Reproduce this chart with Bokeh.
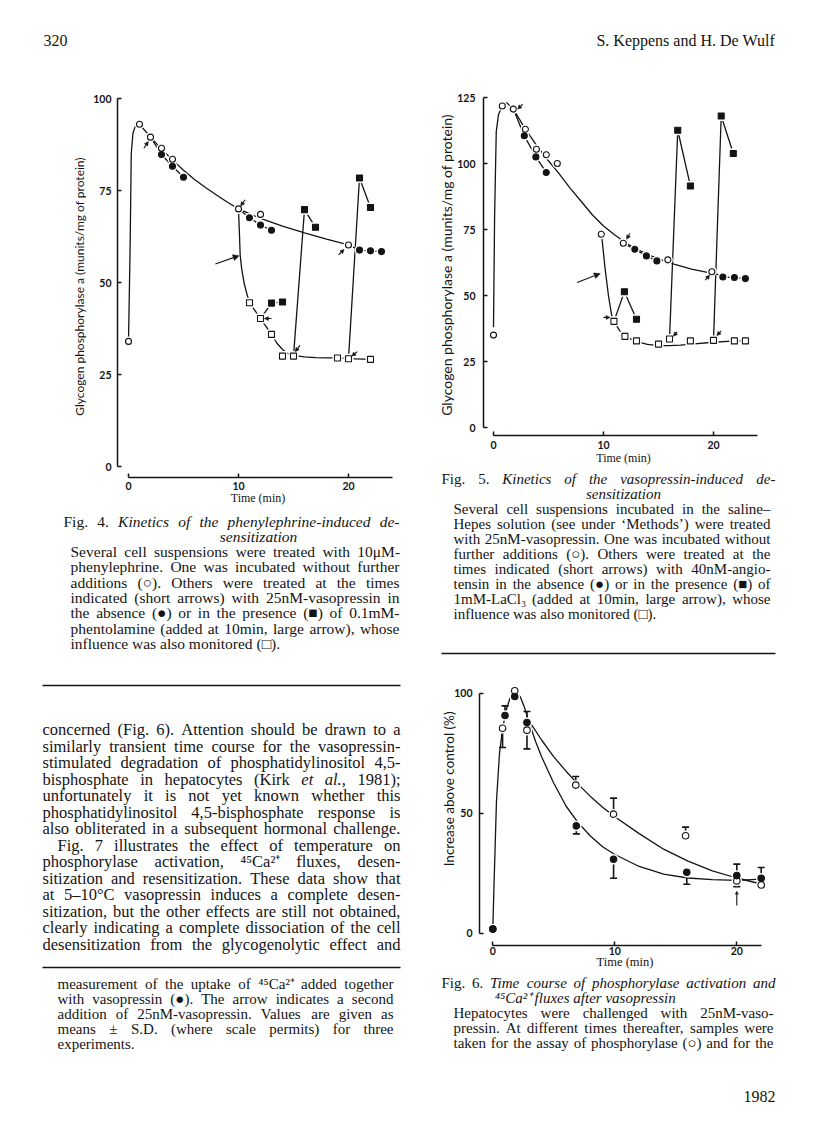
from bokeh.plotting import figure
from bokeh.models import Range1d, LinearAxis, FixedTicker, Arrow, NormalHead, ColumnDataSource, Title
from bokeh.layouts import column, row
from bokeh.embed import file_html
from bokeh.resources import INLINE
from bokeh.core.properties import value

INK = "#141414"
SERIF = "Liberation Serif"
SANS = "Lato"
NB = "\u00a0"

# ================= DATA =================
# ---- Fig. 4 (phenylephrine) ----
f4_ctrl_x = [0, 1, 2, 3, 4, 10, 12, 20]
f4_ctrl_y = [34, 93, 89.5, 86.5, 83.5, 70, 68.5, 60.2]
f4_ctrl_curve_x = [0, 0.15, 0.25, 0.4, 0.6, 1, 2, 3, 4, 5, 6, 7, 8, 9, 10, 12, 14, 16, 18, 20]
f4_ctrl_curve_y = [34, 60, 85, 90.5, 92.3, 93, 89.5, 86.3, 83.3, 80.5, 78, 75.8, 73.8, 71.8, 70, 67.4, 65.3, 63.5, 61.8, 60.2]
f4_vp_x = [[2, 3, 4, 5], [10, 11, 12, 13], [20, 21, 22, 23]]
f4_vp_y = [[89.5, 84.8, 81.6, 78.6], [70, 67.6, 65.6, 64.2], [60.2, 58.8, 58.6, 58.4]]
f4_phen_x = [11, 12, 13, 14, 15, 19, 20, 22]
f4_phen_y = [44.5, 40.2, 35.9, 30, 30, 29.5, 29.3, 29.1]
f4_phen_curve_x = [10, 10.05, 10.1, 10.15, 10.3, 10.5, 10.75, 11, 12, 13, 13.5, 14, 14.5, 15, 16, 17, 18, 19, 20, 22]
f4_phen_curve_y = [70, 66, 62, 57.5, 53.5, 50, 47, 44.5, 40.2, 35.9, 33.5, 31.8, 30.7, 30.2, 29.8, 29.6, 29.5, 29.5, 29.3, 29.1]
f4_vpphen_x = [[12, 13, 14], [15, 16, 17], [20, 21, 22]]
f4_vpphen_y = [[40.2, 44.4, 44.7], [30, 69.8, 65], [29.3, 78.4, 70.4]]
f4_short_x0 = [1.4, 10.6, 19.1, 13.0, 15.6, 20.8]
f4_short_y0 = [86.5, 72.5, 57.5, 40.2, 32.9, 31.2]
f4_short_x1 = [1.8, 10.2, 19.6, 12.35, 15.15, 20.3]
f4_short_y1 = [88.3, 70.8, 59.0, 40.2, 31.2, 30.0]
f4_big_arrow = [7.9, 55.0, 10.05, 57.3]
f4_yticks = [0, 25, 50, 75, 100]
f4_xticks = [0, 10, 20]
f4_ylabel = "Glycogen phosphorylase a (munits/mg of protein)"

# ---- Fig. 5 (vasopressin) ----
f5_ctrl_x = [0, 0.8, 1.8, 2.9, 3.9, 4.8, 5.8, 9.8, 11.8, 15.85, 19.85]
f5_ctrl_y = [35, 121.8, 120.6, 113, 105.4, 103.3, 100, 73.2, 69.8, 63.5, 59]
f5_ctrl_curve_x = [0, 0.1, 0.25, 0.45, 0.8, 1.2, 1.8, 2.9, 3.9, 4.8, 5.8, 7, 8, 9, 10, 11, 12, 13, 14, 15, 16, 18, 20]
f5_ctrl_curve_y = [38, 80, 112, 118.5, 121.8, 123, 120.6, 113, 107, 102, 97, 90.5, 85.5, 80.5, 76.3, 73, 70, 67.6, 65.6, 63.9, 62.4, 60, 58.3]
f5_ang_x = [[1.8, 2.8, 3.85, 4.8], [11.8, 12.85, 13.9, 14.85], [19.85, 20.85, 21.9, 22.9]]
f5_ang_y = [[120.6, 110.5, 102.5, 96.6], [69.8, 67.5, 65, 63.1], [59, 57, 56.8, 56.4]]
f5_la_x = [10.95, 11.95, 13, 15, 16, 17.9, 20, 21.9, 22.9]
f5_la_y = [40.2, 34.5, 32.8, 31.6, 33.5, 32.8, 33, 32.8, 32.8]
f5_la_curve_x = [9.8, 9.9, 10.15, 10.45, 10.75, 10.95, 11.5, 11.95, 13, 14, 15, 16, 17, 18, 20, 22, 22.9]
f5_la_curve_y = [73.2, 70, 60, 50, 42.3, 40.2, 36.5, 34.5, 32.5, 31.5, 31, 31, 31.2, 31.6, 32.3, 32.8, 32.8]
f5_angla_x = [[10.95, 11.9, 13], [16, 16.75, 17.9], [20, 20.7, 21.8]]
f5_angla_y = [[40.2, 51.4, 41], [33.5, 112.6, 91.5], [33, 118, 103.8]]
f5_short_x0 = [2.65, 12.4, 19.25, 16.7, 20.7, 10.0]
f5_short_y0 = [122.5, 73.5, 55.8, 36.2, 36.6, 41.7]
f5_short_x1 = [2.2, 12.1, 19.65, 16.35, 20.3, 10.6]
f5_short_y1 = [120.6, 71.3, 57.7, 34.6, 34.8, 41.7]
f5_big_arrow = [7.6, 54.9, 9.7, 58.3]
f5_yticks = [0, 25, 50, 75, 100, 125]
f5_xticks = [0, 10, 20]
f5_ylabel = "Glycogen phosphorylase a (munits/mg of protein)"

# ---- Fig. 6 (time course) ----
f6_phos_x = [0, 0.8, 1.8, 2.8, 6.8, 9.9, 15.8, 20, 22]
f6_phos_y = [1.7, 85.4, 101, 84.6, 61.7, 49.6, 40.6, 21.8, 20.1]
f6_phos_err = [None, 77.4, None, 76.8, 65.3, 56.3, 44.2, 19.4, None]
f6_ca_x = [0, 1, 1.8, 2.8, 6.85, 9.9, 15.9, 20, 22]
f6_ca_y = [1.7, 90.7, 98.6, 87.8, 44.7, 30.8, 25.4, 24, 22.9]
f6_ca_err = [None, 94.7, None, 92.4, 41.4, 22.9, 20.4, 28.8, 27.4]
f6_rise_x = [0, 0.1, 0.3, 0.55, 0.8, 1.1, 1.45, 1.85, 2.25, 2.6, 2.9]
f6_rise_y = [1.7, 20, 55, 75, 85, 93, 98.5, 100.5, 98.5, 94, 89]
f6_phos_curve_x = [2.9, 4, 5, 6, 7, 8, 9, 10, 12, 14, 16, 18, 20, 22]
f6_phos_curve_y = [89, 80.5, 73.5, 67.5, 62, 57, 52.5, 48.5, 41.5, 35, 30, 26, 23, 20.5]
f6_ca_curve_x = [2.9, 3.5, 4, 5, 6, 7, 8, 9, 10, 12, 14, 16, 18, 20, 22]
f6_ca_curve_y = [89, 80, 73.5, 62.5, 53, 46, 40.5, 36, 32.8, 27.8, 24.6, 23, 22.3, 22, 22.5]
f6_arrow = [20, 11.5, 20, 17.5]
f6_yticks = [0, 50, 100]
f6_xticks = [0, 10, 20]
f6_ylabel = "Increase above control (%)"

# ---- Text ----
header_left = "320"
header_right = "S. Keppens and H. De Wulf"
folio = "1982"
cap4_lines = [
    ("j", "Fig. 4. *Kinetics* *of* *the* *phenylephrine-induced* *de-*"),
    ("c", "*sensitization*"),
    ("j", "Several cell suspensions were treated with 10μM-"),
    ("j", "phenylephrine. One was incubated without further"),
    ("j", "additions (○). Others were treated at the times"),
    ("j", "indicated (short arrows) with 25nM-vasopressin in"),
    ("j", "the absence (●) or in the presence (■) of 0.1mM-"),
    ("j", "phentolamine (added at 10min, large arrow), whose"),
    ("l", "influence was also monitored (□)."),
]
body_lines = [
    ("j", "concerned (Fig. 6). Attention should be drawn to a"),
    ("j", "similarly transient time course for the vasopressin-"),
    ("j", "stimulated degradation of phosphatidylinositol 4,5-"),
    ("j", "bisphosphate in hepatocytes (Kirk *et* *al.,* 1981);"),
    ("j", "unfortunately it is not yet known whether this"),
    ("j", "phosphatidylinositol 4,5-bisphosphate response is"),
    ("j", "also obliterated in a subsequent hormonal challenge."),
    ("i", "Fig. 7 illustrates the effect of temperature on"),
    ("j", "phosphorylase activation, ⁴⁵Ca²⁺ fluxes, desen-"),
    ("j", "sitization and resensitization. These data show that"),
    ("j", "at 5–10°C vasopressin induces a complete desen-"),
    ("j", "sitization, but the other effects are still not obtained,"),
    ("j", "clearly indicating a complete dissociation of the cell"),
    ("j", "desensitization from the glycogenolytic effect and"),
]
foot_lines = [
    ("j", "measurement of the uptake of ⁴⁵Ca²⁺ added together"),
    ("j", "with vasopressin (●). The arrow indicates a second"),
    ("j", "addition of 25nM-vasopressin. Values are given as"),
    ("j", "means ± S.D. (where scale permits) for three"),
    ("l", "experiments."),
]
cap5_lines = [
    ("j", "Fig. 5. *Kinetics* *of* *the* *vasopressin-induced* *de-*"),
    ("c", "*sensitization*"),
    ("j", "Several cell suspensions incubated in the saline–"),
    ("j", "Hepes solution (see under ‘Methods’) were treated"),
    ("j", "with 25nM-vasopressin. One was incubated without"),
    ("j", "further additions (○). Others were treated at the"),
    ("j", "times indicated (short arrows) with 40nM-angio-"),
    ("j", "tensin in the absence (●) or in the presence (■) of"),
    ("j", "1mM-LaCl₃ (added at 10min, large arrow), whose"),
    ("l", "influence was also monitored (□)."),
]
cap6_lines = [
    ("j", "Fig. 6. *Time* *course* *of* *phosphorylase* *activation* *and*"),
    ("c", "*⁴⁵Ca²⁺* *fluxes* *after* *vasopressin*"),
    ("j", "Hepatocytes were challenged with 25nM-vaso-"),
    ("j", "pressin. At different times thereafter, samples were"),
    ("j", "taken for the assay of phosphorylase (○) and for the"),
]

# ================= TEXT LAYOUT HELPERS =================
REG = {' ': 250, '!': 333, '"': 408, "'": 180, '(': 333, ')': 333, '*': 500, '+': 564, ',': 250, '-': 333,
       '.': 250, '/': 278, ':': 278, ';': 278, '?': 444, '%': 833, '&': 778,
       'A': 722, 'B': 667, 'C': 667, 'D': 722, 'E': 611, 'F': 556, 'G': 722, 'H': 722, 'I': 333, 'J': 389,
       'K': 722, 'L': 611, 'M': 889, 'N': 722, 'O': 722, 'P': 556, 'Q': 722, 'R': 667, 'S': 556, 'T': 611,
       'U': 722, 'V': 722, 'W': 944, 'X': 722, 'Y': 722, 'Z': 611,
       'a': 444, 'b': 500, 'c': 444, 'd': 500, 'e': 444, 'f': 333, 'g': 500, 'h': 500, 'i': 278, 'j': 278,
       'k': 500, 'l': 278, 'm': 778, 'n': 500, 'o': 500, 'p': 500, 'q': 500, 'r': 333, 's': 389, 't': 278,
       'u': 500, 'v': 500, 'w': 722, 'x': 500, 'y': 500, 'z': 444,
       '‘': 333, '’': 333, '–': 500, '±': 564, '°': 400, 'μ': 500, '○': 600, '●': 600, '■': 600, '□': 600,
       '⁴': 300, '⁵': 300, '²': 300, '⁺': 340, '₃': 300}
ITAL = {'a': 500, 'f': 278, 'k': 444, 'm': 722, 'r': 389, 'v': 444, 'w': 667, 'x': 444, 'y': 444, 'z': 389,
        'K': 667, 'T': 556, 'F': 611, 'A': 611}


def tw(word, italic, fs):
    tot = 0
    for ch in word:
        if italic and ch in ITAL:
            tot += ITAL[ch]
        elif ch in REG:
            tot += REG[ch]
        else:
            tot += 500
    return tot * fs / 1000.0


def place(lines, x0, x1, y0, dy, fs, center=None, indent=0):
    out = dict(x=[], y=[], text=[], style=[], size=[])
    for k, (mode, s) in enumerate(lines):
        y = y0 + k * dy
        items = []
        for w in s.split(" "):
            if len(w) > 2 and w[0] == "*" and w[-1] == "*":
                items.append((w[1:-1], True))
            else:
                items.append((w, False))
        ws = [tw(t, it, fs) for t, it in items]
        space = 0.25 * fs
        a = x0 + (indent if mode == "i" else 0)
        if mode in ("j", "i") and len(items) > 1:
            gap = (x1 - a - sum(ws)) / (len(items) - 1)
            x = a
        elif mode == "c":
            total = sum(ws) + space * (len(items) - 1)
            x = center - total / 2
            gap = space
        elif mode == "r":
            total = sum(ws) + space * (len(items) - 1)
            x = x1 - total
            gap = space
        else:
            x = a
            gap = space
        for (t, it), w in zip(items, ws):
            out["x"].append(x)
            out["y"].append(y)
            out["text"].append(t)
            out["style"].append("italic" if it else "normal")
            out["size"].append("%.1fpx" % fs)
            x += w + gap
    return out


def merge(*ds):
    out = dict(x=[], y=[], text=[], style=[], size=[])
    for d in ds:
        for k in out:
            out[k].extend(d[k])
    return out


def text_fig(px0, px1, py0, py1):
    p = figure(width=px1 - px0, height=py1 - py0, x_range=Range1d(px0, px1), y_range=Range1d(py1, py0),
               min_border=0, x_axis_type=None, y_axis_type=None, frame_align=False,
               output_backend="svg", toolbar_location=None)
    p.outline_line_color = None
    p.background_fill_color = "white"
    p.border_fill_color = "white"
    return p


def draw_text(p, d):
    p.text(x="x", y="y", text="text", source=ColumnDataSource(d), text_font=value(SERIF),
           text_font_size="size", text_font_style="style", text_color=INK,
           text_baseline="middle", text_align="left")


def chart_fig(cx0, cx1, cy0, cy1, fx0, fx1, fy0, fy1, X0, KX, Y0, KY):
    p = figure(frame_width=fx1 - fx0, frame_height=fy1 - fy0,
               min_border_left=fx0 - cx0, min_border_right=cx1 - fx1,
               min_border_top=fy0 - cy0, min_border_bottom=cy1 - fy1,
               x_range=Range1d((fx0 - X0) / KX, (fx1 - X0) / KX),
               y_range=Range1d((Y0 - fy1) / KY, (Y0 - fy0) / KY),
               x_axis_type=None, y_axis_type=None, frame_align=False,
               output_backend="svg", toolbar_location=None)
    p.outline_line_color = None
    p.background_fill_color = "white"
    p.border_fill_color = "white"
    return p


def add_axes(p, xticks, xbounds, yticks, ybounds, xl_std, xlab_std, xlab_size,
             ytick_std, ylab, ylab_size, ylab_std, tick_size="10.5px"):
    xa = LinearAxis(ticker=FixedTicker(ticks=xticks), bounds=xbounds, axis_label="Time (min)",
                    axis_label_text_font=SERIF, axis_label_text_font_style="normal",
                    axis_label_text_font_size=xlab_size, axis_label_text_color=INK,
                    axis_label_standoff=xlab_std, major_label_standoff=xl_std)
    ya = LinearAxis(ticker=FixedTicker(ticks=yticks), bounds=ybounds, major_label_standoff=ytick_std)
    if ylab is not None:
        ya.axis_label = ylab
        ya.axis_label_text_font = SANS
        ya.axis_label_text_font_style = "normal"
        ya.axis_label_text_font_size = ylab_size
        ya.axis_label_text_color = INK
        ya.axis_label_standoff = ylab_std
    for ax in (xa, ya):
        ax.axis_line_width = 1.5
        ax.axis_line_color = INK
        ax.major_tick_in = 4
        ax.major_tick_out = 0
        ax.major_tick_line_width = 1.5
        ax.major_tick_line_color = INK
        ax.minor_tick_line_color = None
        ax.major_label_text_font = SANS
        ax.major_label_text_font_style = "bold"
        ax.major_label_text_font_size = tick_size
        ax.major_label_text_color = INK
    p.add_layout(xa, "below")
    p.add_layout(ya, "left")


def markers(p, specs):
    for x, y, mk, filled, sz in specs:
        p.scatter(x, y, marker=mk, size=sz + 4, fill_color="white", line_color=None)
    for x, y, mk, filled, sz in specs:
        p.scatter(x, y, marker=mk, size=sz, fill_color=INK if filled else "white",
                  line_color=INK, line_width=1.1)


def arrows(p, x0, y0, x1, y1, head):
    src = ColumnDataSource(dict(x0=x0, y0=y0, x1=x1, y1=y1))
    p.add_layout(Arrow(end=NormalHead(size=head, fill_color=INK, line_color=INK, line_width=0.5),
                       x_start="x0", y_start="y0", x_end="x1", y_end="y1", source=src,
                       line_color=INK, line_width=1.1))


LW = 1.3

# ================= HEADER =================
hdr = text_fig(0, 812, 0, 60)
draw_text(hdr, merge(place([("l", header_left)], 43, 400, 40, 0, 16.0),
                     place([("r", header_right)], 400, 775, 40, 0, 16.0)))

# ================= FIG 4 =================
X0, KX, Y0, KY = 128, 11.0, 466, 3.68
f4 = chart_fig(0, 412, 60, 508, 117, 398, 95, 477, X0, KX, Y0, KY)
add_axes(f4, f4_xticks, (0, 24), f4_yticks, (0, 100), 4, -2, "12px", 6, f4_ylabel, "12px", 3)
f4.line(f4_ctrl_curve_x, f4_ctrl_curve_y, line_color=INK, line_width=LW)
f4.line(f4_phen_curve_x, f4_phen_curve_y, line_color=INK, line_width=LW)
for gx, gy in zip(f4_vp_x, f4_vp_y):
    f4.line(gx, gy, line_color=INK, line_width=LW)
for gx, gy in zip(f4_vpphen_x, f4_vpphen_y):
    f4.line(gx, gy, line_color=INK, line_width=LW)
spec = [(f4_ctrl_x, f4_ctrl_y, "circle", False, 6), (f4_phen_x, f4_phen_y, "square", False, 6)]
for gx, gy in zip(f4_vp_x, f4_vp_y):
    spec.append((gx[1:], gy[1:], "circle", True, 6))
for gx, gy in zip(f4_vpphen_x, f4_vpphen_y):
    spec.append((gx[1:], gy[1:], "square", True, 6))
markers(f4, spec)
arrows(f4, f4_short_x0, f4_short_y0, f4_short_x1, f4_short_y1, 4)
arrows(f4, [f4_big_arrow[0]], [f4_big_arrow[1]], [f4_big_arrow[2]], [f4_big_arrow[3]], 6)

# ================= LEFT TEXT =================
txtL = text_fig(0, 412, 508, 1132)
dL = merge(
    place(cap4_lines[:1], 63, 399, 521, 15.3, 15.5),
    place(cap4_lines[1:2], 63, 399, 536, 15.3, 15.5, center=258),
    place(cap4_lines[2:], 70, 399, 551, 15.3, 15.5),
    place(body_lines, 42, 400, 729, 16.5, 16.5, indent=15),
    place(foot_lines, 57, 393, 983, 15.0, 15.0),
)
draw_text(txtL, dL)
txtL.segment([42, 42], [685, 967], [400, 400], [685, 967], line_color=INK, line_width=1.6)

# ================= FIG 5 =================
X0, KX, Y0, KY = 493, 11.0, 427, 2.64
f5 = chart_fig(412, 812, 60, 466, 483, 763, 94, 435, X0, KX, Y0, KY)
add_axes(f5, f5_xticks, (0, 24), f5_yticks, (0, 125), 5, -1, "12px", 8, None, None, None)
f5.add_layout(Title(text=f5_ylabel, align="center", offset=-16, standoff=0,
                    text_font=SANS, text_font_style="normal", text_font_size="14px",
                    text_color=INK), "left")
f5.line(f5_ctrl_curve_x, f5_ctrl_curve_y, line_color=INK, line_width=LW)
f5.line(f5_la_curve_x, f5_la_curve_y, line_color=INK, line_width=LW)
for gx, gy in zip(f5_ang_x, f5_ang_y):
    f5.line(gx, gy, line_color=INK, line_width=LW)
for gx, gy in zip(f5_angla_x, f5_angla_y):
    f5.line(gx, gy, line_color=INK, line_width=LW)
spec = [(f5_ctrl_x, f5_ctrl_y, "circle", False, 6), (f5_la_x, f5_la_y, "square", False, 6)]
for gx, gy in zip(f5_ang_x, f5_ang_y):
    spec.append((gx[1:], gy[1:], "circle", True, 6))
for gx, gy in zip(f5_angla_x, f5_angla_y):
    spec.append((gx[1:], gy[1:], "square", True, 6))
markers(f5, spec)
arrows(f5, f5_short_x0, f5_short_y0, f5_short_x1, f5_short_y1, 4)
arrows(f5, [f5_big_arrow[0]], [f5_big_arrow[1]], [f5_big_arrow[2]], [f5_big_arrow[3]], 6)

# ================= CAPTION 5 =================
cap5 = text_fig(412, 812, 466, 655)
d5 = merge(
    place(cap5_lines[:1], 441, 775, 477, 15.1, 15.0),
    place(cap5_lines[1:2], 441, 775, 492, 15.1, 15.0, center=623),
    place(cap5_lines[2:], 453, 770, 507, 15.1, 15.0),
)
draw_text(cap5, d5)
cap5.segment([441], [652], [775], [652], line_color=INK, line_width=1.6)

# ================= FIG 6 =================
X0, KX, Y0, KY = 492.3, 12.2, 931.7, 2.4
f6 = chart_fig(412, 812, 655, 970, 479, 770, 655, 944, X0, KX, Y0, KY)
add_axes(f6, f6_xticks, (0, 22), f6_yticks, (0, 100), 1, -3, "12.5px", 7,
         NB * 7 + f6_ylabel, "13.5px", -6)
f6.line(f6_rise_x, f6_rise_y, line_color=INK, line_width=LW)
f6.line(f6_phos_curve_x, f6_phos_curve_y, line_color=INK, line_width=LW)
f6.line(f6_ca_curve_x, f6_ca_curve_y, line_color=INK, line_width=LW)
for xs, ys, es in ((f6_phos_x, f6_phos_y, f6_phos_err), (f6_ca_x, f6_ca_y, f6_ca_err)):
    ex = [x for x, e in zip(xs, es) if e is not None]
    ey = [y for y, e in zip(ys, es) if e is not None]
    ee = [e for e in es if e is not None]
    f6.segment(ex, ey, ex, ee, line_color=INK, line_width=1.6)
    f6.scatter(ex, ee, marker="dash", size=7, line_color=INK, line_width=1.6)
markers(f6, [(f6_phos_x, f6_phos_y, "circle", False, 6.5), (f6_ca_x, f6_ca_y, "circle", True, 6.5)])
arrows(f6, [f6_arrow[0]], [f6_arrow[1]], [f6_arrow[2]], [f6_arrow[3]], 3)

# ================= CAPTION 6 =================
cap6 = text_fig(412, 812, 970, 1132)
d6 = merge(
    place(cap6_lines[:1], 441, 775, 981, 15.2, 15.0),
    place(cap6_lines[1:2], 441, 775, 996, 15.2, 15.0, center=585),
    place(cap6_lines[2:], 453, 773, 1011, 15.2, 15.0),
    place([("r", folio)], 441, 775, 1095, 0, 16.0),
)
draw_text(cap6, d6)

layout = column(hdr, row(column(f4, txtL), column(f5, cap5, f6, cap6)))
open("out.html", "w").write(file_html(layout, INLINE))
